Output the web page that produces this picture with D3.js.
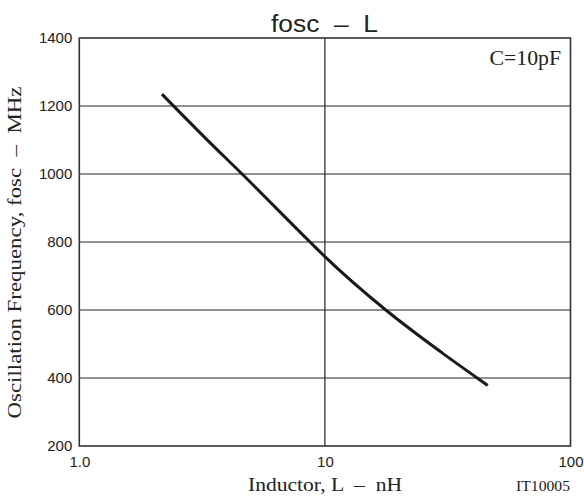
<!DOCTYPE html>
<html>
<head>
<meta charset="utf-8">
<script src="https://cdn.jsdelivr.net/npm/d3@7"></script>
<style>
  body { margin: 0; background: #fff; }
</style>
</head>
<body>
<div id="chart"></div>
<script>
// Values (C = 10pF)
const inductance = [2.17, 3.3, 4.6, 8.7, 10, 17.7, 30, 41.7, 46];
const frequency = [1235, 1102, 1000, 800, 757, 600, 474, 400, 378];

const xTicks = [1, 10, 100];
const xTickLabels = ["1.0", "10", "100"];
const yTicks = [200, 400, 600, 800, 1000, 1200, 1400];

const width = 584;
const height = 499;
const margin = { top: 38, right: 13.5, bottom: 53, left: 79.3 };

const sans = "'Liberation Sans', Arial, sans-serif";
const serif = "'Liberation Serif', 'Times New Roman', serif";

const svg = d3.select("#chart")
    .append("svg")
    .attr("width", width)
    .attr("height", height);

const x = d3.scaleLog()
    .domain([1, 100])
    .range([margin.left, width - margin.right]);

const y = d3.scaleLinear()
    .domain([200, 1400])
    .range([height - margin.bottom, margin.top]);

// Grid lines
svg.append("g")
    .selectAll("line")
    .data(yTicks.slice(1, -1))
    .enter()
    .append("line")
    .attr("x1", x(1))
    .attr("x2", x(100))
    .attr("y1", d => y(d))
    .attr("y2", d => y(d))
    .attr("stroke", "#222")
    .attr("stroke-width", 1);

svg.append("g")
    .selectAll("line")
    .data(xTicks.slice(1, -1))
    .enter()
    .append("line")
    .attr("x1", d => x(d))
    .attr("x2", d => x(d))
    .attr("y1", y(200))
    .attr("y2", y(1400))
    .attr("stroke", "#222")
    .attr("stroke-width", 1.2);

// Frame
svg.append("rect")
    .attr("x", x(1))
    .attr("y", y(1400))
    .attr("width", x(100) - x(1))
    .attr("height", y(200) - y(1400))
    .attr("fill", "none")
    .attr("stroke", "#333")
    .attr("stroke-width", 1.6);

// Tick labels through d3 axes, lines hidden
const yAxis = svg.append("g")
    .attr("transform", `translate(${x(1)},0)`)
    .call(d3.axisLeft(y).tickValues(yTicks).tickFormat(d3.format("d")).tickSize(0).tickPadding(7));
yAxis.select(".domain").remove();
yAxis.selectAll("text")
    .attr("font-family", sans)
    .attr("font-size", 15)
    .attr("fill", "#222");

const xAxis = svg.append("g")
    .attr("transform", `translate(0,${y(200)})`)
    .call(d3.axisBottom(x).tickValues(xTicks).tickFormat((d, i) => xTickLabels[i]).tickSize(0).tickPadding(10));
xAxis.select(".domain").remove();
xAxis.selectAll("text")
    .attr("font-family", sans)
    .attr("font-size", 15)
    .attr("fill", "#222");

// Curve
const line = d3.line()
    .x((d, i) => x(inductance[i]))
    .y(d => y(d))
    .curve(d3.curveMonotoneX);

svg.append("path")
    .datum(frequency)
    .attr("d", line)
    .attr("fill", "none")
    .attr("stroke", "#1a1a1a")
    .attr("stroke-width", 3);

// Title
svg.append("text")
    .attr("x", 324.5)
    .attr("y", 31.5)
    .attr("text-anchor", "middle")
    .attr("font-family", sans)
    .attr("font-size", 23)
    .attr("fill", "#222")
    .attr("xml:space", "preserve")
    .attr("textLength", 107)
    .attr("lengthAdjust", "spacingAndGlyphs")
    .text("fosc  –  L");

// Condition label
svg.append("text")
    .attr("x", 561)
    .attr("y", 65)
    .attr("text-anchor", "end")
    .attr("font-family", serif)
    .attr("font-size", 20)
    .attr("fill", "#222")
    .attr("textLength", 71.5)
    .attr("lengthAdjust", "spacingAndGlyphs")
    .text("C=10pF");

// Axis titles
svg.append("text")
    .attr("transform", `translate(20.5,252.5) rotate(-90)`)
    .attr("text-anchor", "middle")
    .attr("font-family", serif)
    .attr("font-size", 19)
    .attr("fill", "#222")
    .attr("xml:space", "preserve")
    .attr("textLength", 332)
    .attr("lengthAdjust", "spacingAndGlyphs")
    .text("Oscillation Frequency, fosc  –  MHz");

svg.append("text")
    .attr("x", 325)
    .attr("y", 491)
    .attr("text-anchor", "middle")
    .attr("font-family", serif)
    .attr("font-size", 19)
    .attr("fill", "#222")
    .attr("xml:space", "preserve")
    .attr("textLength", 154)
    .attr("lengthAdjust", "spacingAndGlyphs")
    .text("Inductor, L  –  nH");

svg.append("text")
    .attr("x", 570)
    .attr("y", 491)
    .attr("text-anchor", "end")
    .attr("font-family", serif)
    .attr("font-size", 15)
    .attr("fill", "#222")
    .attr("textLength", 54)
    .attr("lengthAdjust", "spacingAndGlyphs")
    .text("IT10005");
</script>
</body>
</html>
